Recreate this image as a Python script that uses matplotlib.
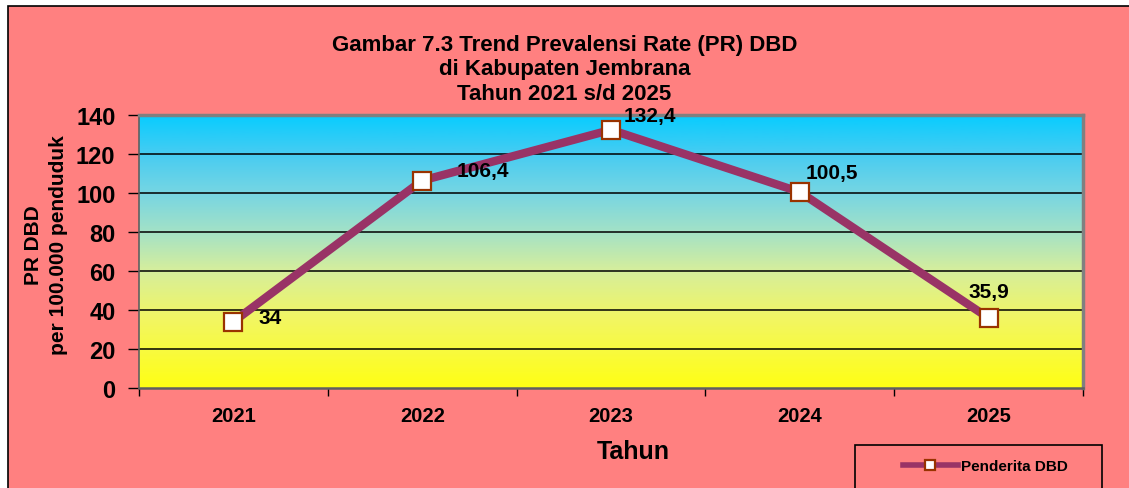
import numpy as np
import matplotlib.pyplot as plt
from matplotlib.patches import Rectangle
from matplotlib.colors import LinearSegmentedColormap

plt.rcParams['font.family'] = ['Liberation Sans', 'DejaVu Sans']
plt.rcParams['font.weight'] = 'bold'

years = ['2021', '2022', '2023', '2024', '2025']
pr_dbd = [34, 106.4, 132.4, 100.5, 35.9]
labels = ['34', '106,4', '132,4', '100,5', '35,9']
yticks = [0, 20, 40, 60, 80, 100, 120, 140]

# label offsets in points (relative to the marker)
label_off = [(18, 3, 'left'), (25, 7, 'left'), (9, 10, 'left'), (4, 14, 'left'), (0, 19, 'center')]

W, H = 1129, 489
fig = plt.figure(figsize=(W / 100, H / 100), dpi=100, facecolor='white')

# pink chart area with black border (runs off the right/bottom edge)
fig.patches.append(Rectangle((8 / W, -0.1), 1.2, 1 - 7 / H + 0.1, transform=fig.transFigure,
                             facecolor='#FF8080', edgecolor='black', linewidth=1.2, zorder=-5))

ax = fig.add_axes([139 / W, 1 - 389 / H, (1083 - 139) / W, (389 - 116) / H])
ax.set_facecolor('none')

# gradient plot area: cyan top -> yellow bottom
cmap = LinearSegmentedColormap.from_list('bg', [
    (0.0, '#FFFF14'), (0.25, '#F2F662'), (0.43, '#D6EE9C'), (0.57, '#A4E2C6'),
    (0.71, '#78D6E2'), (0.86, '#46CCF2'), (1.0, '#08CCFF')])
grad = np.linspace(0, 1, 256).reshape(-1, 1)
ax.imshow(grad, cmap=cmap, aspect='auto', origin='lower', extent=[0, 1, 0, 1],
          transform=ax.transAxes, zorder=0)

x = np.arange(len(years))
ax.set_xlim(-0.5, len(years) - 0.5)
ax.set_ylim(0, 140)

for yv in yticks[1:-1]:
    ax.axhline(yv, color='black', linewidth=1.1, zorder=1)

ax.plot(x, pr_dbd, color='#993366', linewidth=6, marker='s', markersize=12.5,
        markerfacecolor='white', markeredgecolor='#993300', markeredgewidth=1.6,
        zorder=3, label='Penderita DBD')

for xi, yi, lab, (dx, dy, ha) in zip(x, pr_dbd, labels, label_off):
    ax.annotate(lab, (xi, yi), xytext=(dx, dy), textcoords='offset points',
                ha=ha, va='center', fontsize=15, fontweight='bold', zorder=4)

ax.set_yticks(yticks)
ax.set_yticklabels([str(v) for v in yticks], fontsize=17, fontweight='bold')
ax.tick_params(axis='y', length=8, width=1, pad=9)

ax.set_xticks(x)
ax.set_xticklabels(years, fontsize=14.5, fontweight='bold')
ax.set_xticks(np.arange(-0.5, len(years)), minor=True)
ax.tick_params(axis='x', which='major', length=0, pad=13)
ax.tick_params(axis='x', which='minor', length=6, width=1)

for s in ['top', 'right']:
    ax.spines[s].set_color('#808080')
    ax.spines[s].set_linewidth(2.5)
ax.spines['left'].set_color('#606060')
ax.spines['left'].set_linewidth(1.2)
ax.spines['bottom'].set_color('#606060')
ax.spines['bottom'].set_linewidth(1.8)

ax.set_xlabel('Tahun', fontsize=18, fontweight='bold')
ax.xaxis.set_label_coords((633 - 139) / 944, -(452 - 389) / 273)
ax.xaxis.label.set_va('center')

fig.text(46 / W, 1 - 245 / H, 'PR DBD\nper 100.000 penduduk', rotation=90,
         ha='center', va='center', multialignment='center', fontsize=15,
         fontweight='bold', linespacing=1.35)

fig.text(0.5, 1 - 70 / H, 'Gambar 7.3 Trend Prevalensi Rate (PR) DBD\ndi Kabupaten Jembrana\nTahun 2021 s/d 2025',
         ha='center', va='center', fontsize=16, fontweight='bold', linespacing=1.25)

# legend box
fig.patches.append(Rectangle((855 / W, -0.1), (1102 - 855) / W, 1 - 446 / H + 0.1,
                             transform=fig.transFigure, facecolor='#FF8080',
                             edgecolor='black', linewidth=1.2, zorder=1))
leg = fig.legend(loc='center left', bbox_to_anchor=(895 / W, 1 - 467 / H), frameon=False,
                 fontsize=11, handlelength=3.6, handletextpad=0.2, borderpad=0)
for h in leg.legend_handles:
    h.set_markersize(7.5)
    h.set_linewidth(4)

fig.savefig('out.png', dpi=100, facecolor=fig.get_facecolor())
